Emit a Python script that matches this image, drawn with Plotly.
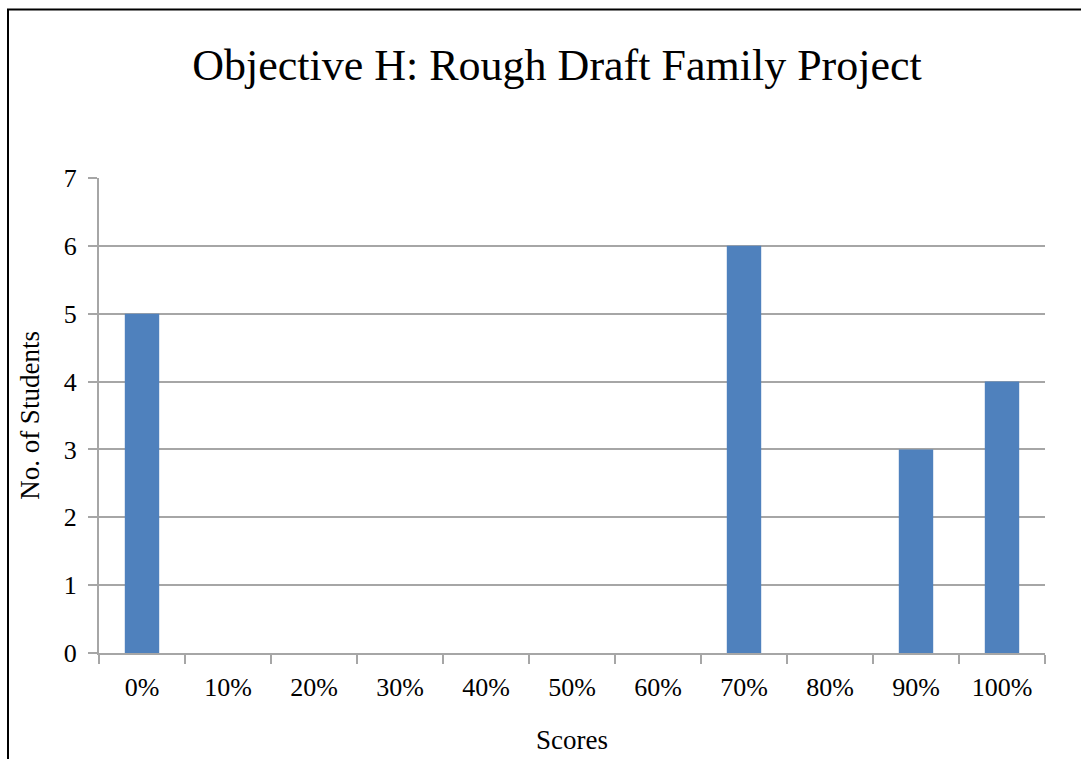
import plotly.graph_objects as go

categories = ["0%", "10%", "20%", "30%", "40%", "50%", "60%", "70%", "80%", "90%", "100%"]
students = [5, 0, 0, 0, 0, 0, 0, 6, 0, 3, 4]
y_ticks = [0, 1, 2, 3, 4, 5, 6, 7]

W, H = 1081, 759
L, R, T, B = 99, 36, 178, 106
pw, ph = W - L - R, H - T - B

FONT = "Liberation Serif, Times New Roman, serif"
GRID = "#A6A6A6"

fig = go.Figure(go.Bar(
    x=categories, y=students,
    marker=dict(color="#4F81BD", line=dict(width=0)),
))

fig.update_layout(
    width=W, height=H,
    margin=dict(l=L, r=R, t=T, b=B, autoexpand=False),
    paper_bgcolor="white", plot_bgcolor="white",
    bargap=0.6,
    showlegend=False,
    font=dict(family=FONT, color="black", size=26),
    title=dict(
        text="Objective H: Rough Draft Family Project",
        font=dict(family=FONT, size=44, color="black"),
        x=557 / W, xanchor="center", xref="container",
        y=1 - 65 / H, yanchor="middle", yref="container",
    ),
    xaxis=dict(
        type="category",
        tickson="boundaries",
        ticks="outside", ticklen=9, tickwidth=2, tickcolor=GRID,
        showline=True, linecolor=GRID, linewidth=2,
        showgrid=False,
        tickfont=dict(family=FONT, size=26, color="black"),
        ticklabelstandoff=10,
        title=dict(text="Scores", font=dict(family=FONT, size=27, color="black"), standoff=29),
    ),
    yaxis=dict(
        range=[0, 7],
        tickvals=y_ticks,
        ticks="outside", ticklen=9, tickwidth=2, tickcolor=GRID,
        showline=True, linecolor=GRID, linewidth=2,
        showgrid=True, gridcolor=GRID, gridwidth=2,
        zeroline=False,
        tickfont=dict(family=FONT, size=26, color="black"),
        ticklabelstandoff=6,
        title=dict(text="No. of Students", font=dict(family=FONT, size=27, color="black"), standoff=16),
    ),
    shapes=[dict(
        type="rect", xref="paper", yref="paper",
        x0=(8 - L) / pw, x1=(W + 20 - L) / pw,
        y0=-(H + 20 - (H - B)) / ph, y1=1 + (T - 9.5) / ph,
        line=dict(color="black", width=2), fillcolor="rgba(0,0,0,0)",
        layer="below",
    )],
)

fig.write_html(
    "out.html",
    config={"displayModeBar": False},
    post_script="document.body.style.margin='0';document.body.style.overflow='hidden';",
)
